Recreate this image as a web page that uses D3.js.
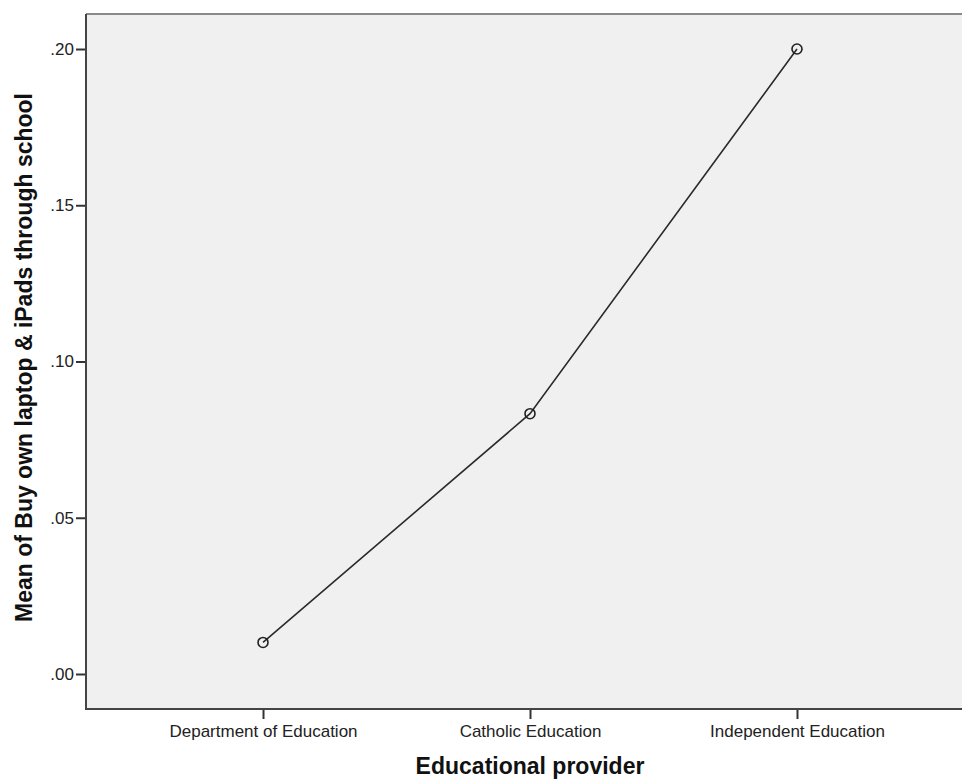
<!DOCTYPE html>
<html>
<head>
<meta charset="utf-8">
<script src="https://cdn.jsdelivr.net/npm/d3@7"></script>
<style>
html,body{margin:0;padding:0;background:#fff;}
svg{display:block;}
</style>
</head>
<body>
<script>
const categories = ["Department of Education", "Catholic Education", "Independent Education"];
const means = [0.0101, 0.0833, 0.2000];
const yTicks = [0, 0.05, 0.10, 0.15, 0.20];
const yTickLabels = [".00", ".05", ".10", ".15", ".20"];
const xTitle = "Educational provider";
const yTitle = "Mean of Buy own laptop & iPads through school";

const W = 962, H = 780;
const mLeft = 86, mTop = 14, mBottom = 709, mRight = 962;

const svg = d3.select("body").append("svg").attr("width", W).attr("height", H);

const x = d3.scalePoint().domain(categories).range([mLeft, 974]).padding(0.663);
const y = d3.scaleLinear().domain([0, 0.2]).range([674, 49]);

svg.append("rect").attr("x", mLeft).attr("y", mTop).attr("width", mRight - mLeft + 2).attr("height", mBottom - mTop)
  .attr("fill", "#f0f0f0");

// frame
svg.append("line").attr("x1", mLeft).attr("x2", W).attr("y1", mTop).attr("y2", mTop)
  .attr("stroke", "#8a8a8a").attr("stroke-width", 2);

const fontFam = "Liberation Sans, Arial, sans-serif";

const yAxis = d3.axisLeft(y).tickValues(yTicks).tickFormat((d, i) => yTickLabels[i]).tickSize(10).tickPadding(2);
const gy = svg.append("g").attr("transform", `translate(${mLeft},0)`).call(yAxis);
gy.select(".domain").remove();
gy.append("line").attr("x1", 0).attr("x2", 0).attr("y1", mTop).attr("y2", mBottom).attr("stroke", "#444").attr("stroke-width", 2);
gy.selectAll(".tick line").attr("stroke", "#333").attr("stroke-width", 2);
gy.selectAll(".tick text").attr("font-family", fontFam).attr("font-size", 17).attr("fill", "#222");

const xAxis = d3.axisBottom(x).tickSize(10).tickPadding(6);
const gx = svg.append("g").attr("transform", `translate(0,${mBottom})`).call(xAxis);
gx.select(".domain").remove();
gx.append("line").attr("x1", mLeft - 1).attr("x2", W).attr("y1", 0).attr("y2", 0).attr("stroke", "#444").attr("stroke-width", 2);
gx.selectAll(".tick line").attr("stroke", "#333").attr("stroke-width", 2);
gx.selectAll(".tick text").attr("font-family", fontFam).attr("font-size", 17).attr("fill", "#222")
  .attr("dy", null).attr("y", 28);

const data = categories.map((c, i) => ({c, v: means[i]}));
const line = d3.line().x(d => x(d.c)).y(d => y(d.v));
svg.append("path").datum(data).attr("d", line).attr("fill", "none").attr("stroke", "#2a2a2a").attr("stroke-width", 1.6);
svg.selectAll("circle.pt").data(data).enter().append("circle").attr("class", "pt")
  .attr("cx", d => x(d.c)).attr("cy", d => y(d.v)).attr("r", 5)
  .attr("fill", "none").attr("stroke", "#222").attr("stroke-width", 1.6);

svg.append("text").attr("x", 530).attr("y", 774).attr("text-anchor", "middle")
  .attr("font-family", fontFam).attr("font-weight", "bold").attr("font-size", 23).attr("fill", "#111")
  .text(xTitle);
svg.append("text").attr("transform", `translate(32,${(mTop + mBottom) / 2 - 4}) rotate(-90)`).attr("text-anchor", "middle")
  .attr("font-family", fontFam).attr("font-weight", "bold").attr("font-size", 23).attr("fill", "#111")
  .text(yTitle);
</script>
</body>
</html>
